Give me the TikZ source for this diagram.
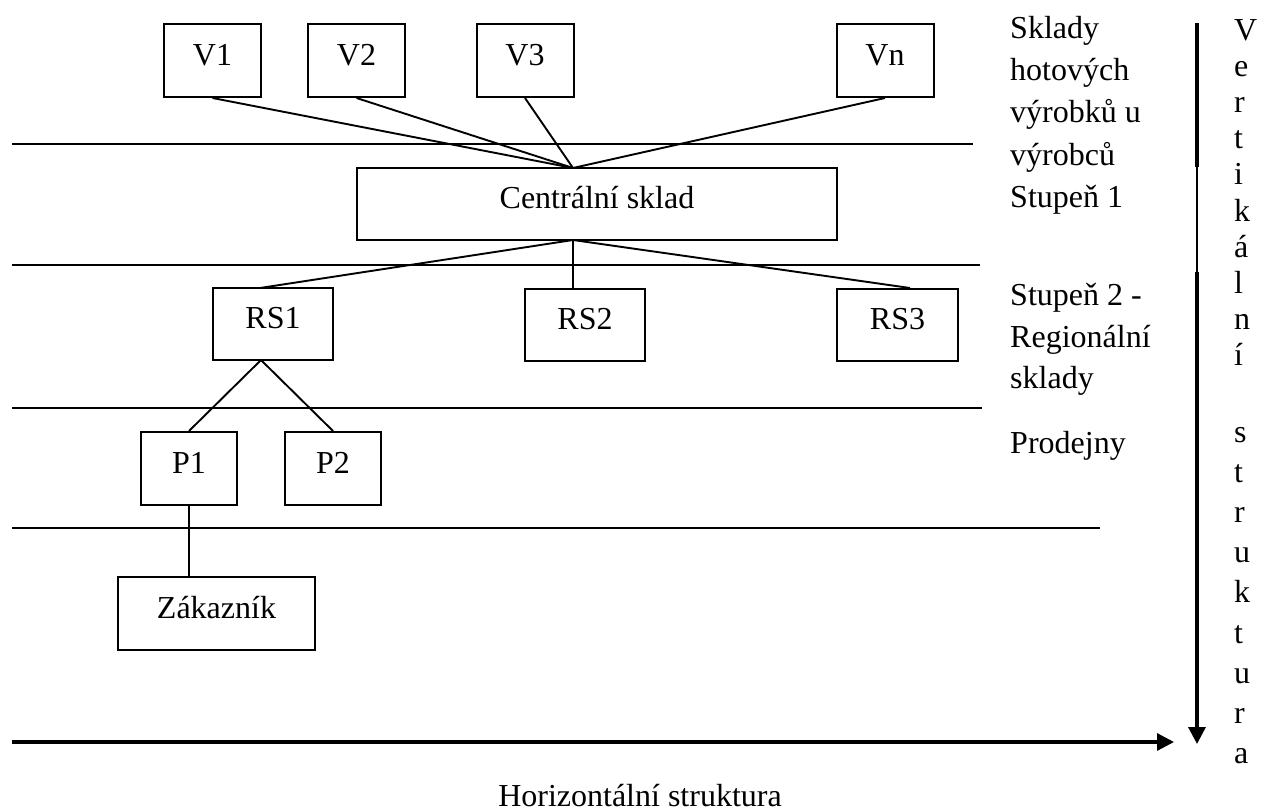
\documentclass[tikz,border=0pt]{standalone}
\usepackage{fontspec}
\setmainfont{Liberation Serif}
\usetikzlibrary{arrows.meta}

\begin{document}
\begin{tikzpicture}[x=1pt,y=-1pt,
  every node/.style={font=\fontsize{32}{38}\selectfont},
  box/.style={draw,line width=2pt,inner sep=0pt,text height=22pt,text depth=13pt},
  link/.style={line width=1.9pt},
  rule/.style={line width=2pt},
  lbl/.style={anchor=base west,inner sep=0pt},
  axis/.style={line width=3.2pt},
  tip/.style={-{Triangle[length=17pt,width=17pt]}}
]
\useasboundingbox (0,0) rectangle (1266,811);

% level separators
\draw[rule] (12,144) -- (973,144);
\draw[rule] (12,265) -- (980,265);
\draw[rule] (12,408) -- (982,408);
\draw[rule] (12,528) -- (1100,528);

% producers
\node[box,minimum width=97pt,minimum height=73pt] (V1) at (212.5,60.5) {V1};
\node[box,minimum width=97pt,minimum height=73pt] (V2) at (356.5,60.5) {V2};
\node[box,minimum width=97pt,minimum height=73pt] (V3) at (525,60.5) {V3};
\node[box,minimum width=97pt,minimum height=73pt] (Vn) at (885,60.5) {Vn};

% central warehouse
\node[box,minimum width=480pt,minimum height=72pt] (CS) at (597,204) {Centrální sklad};

% regional warehouses
\node[box,minimum width=120pt,minimum height=72pt] (RS1) at (273,324) {RS1};
\node[box,minimum width=120pt,minimum height=72pt] (RS2) at (585,324.5) {RS2};
\node[box,minimum width=121pt,minimum height=72pt] (RS3) at (897.5,324.5) {RS3};

% shops
\node[box,minimum width=96pt,minimum height=73pt] (P1) at (189,468.5) {P1};
\node[box,minimum width=96pt,minimum height=73pt] (P2) at (333,468.5) {P2};

% customer
\node[box,minimum width=197pt,minimum height=73pt] (Zak) at (216.5,613.5) {Zákazník};

% attachment points
\coordinate (csin) at (573,168);
\coordinate (csout) at (573,240);
\coordinate (rs1in) at (260,288);
\coordinate (rs2in) at (573,288);
\coordinate (rs3in) at (910,288);
\coordinate (rs1out) at (261,360);

% connections
\draw[link] (V1.south) -- (csin);
\draw[link] (V2.south) -- (csin);
\draw[link] (V3.south) -- (csin);
\draw[link] (Vn.south) -- (csin);
\draw[link] (csout) -- (rs1in);
\draw[link] (csout) -- (rs2in);
\draw[link] (csout) -- (rs3in);
\draw[link] (rs1out) -- (P1.north);
\draw[link] (rs1out) -- (P2.north);
\draw[link] (P1.south) -- (P1.south |- Zak.north);

% level captions
\node[lbl] (c1) at (1010,38) {Sklady};
\node[lbl] (c2) at (1010,80) {hotových};
\node[lbl] (c3) at (1010,122) {výrobků u};
\node[lbl] (c4) at (1010,165) {výrobců};
\node[lbl] (c5) at (1010,207) {Stupeň 1};
\node[lbl] (c6) at (1010,305) {Stupeň 2 -};
\node[lbl] (c7) at (1010,347) {Regionální};
\node[lbl] (c8) at (1010,388) {sklady};
\node[lbl] (c9) at (1010,453) {Prodejny};

% vertical axis
\draw[axis] (1197,23) -- (1197,167);
\draw[line width=1.3pt] (1197,167) -- (1197,272);
\draw[axis,tip] (1197,272) -- (1197,744);

% horizontal axis
\draw[axis,tip] (12,742) -- (1174,742);
\node[anchor=base,inner sep=0pt] (htxt) at (640,806) {Horizontální struktura};

% vertical caption, one letter per line
\foreach \c [count=\i] in {V,e,r,t,i,k,á,l,n,í}
  \node[lbl] (va\i) at (1234,{40+36.2*(\i-1)}) {\c};
\foreach \c [count=\i] in {s,t,r,u,k,t,u,r,a}
  \node[lbl] (vb\i) at (1234,{442+40.2*(\i-1)}) {\c};
\end{tikzpicture}
\end{document}
